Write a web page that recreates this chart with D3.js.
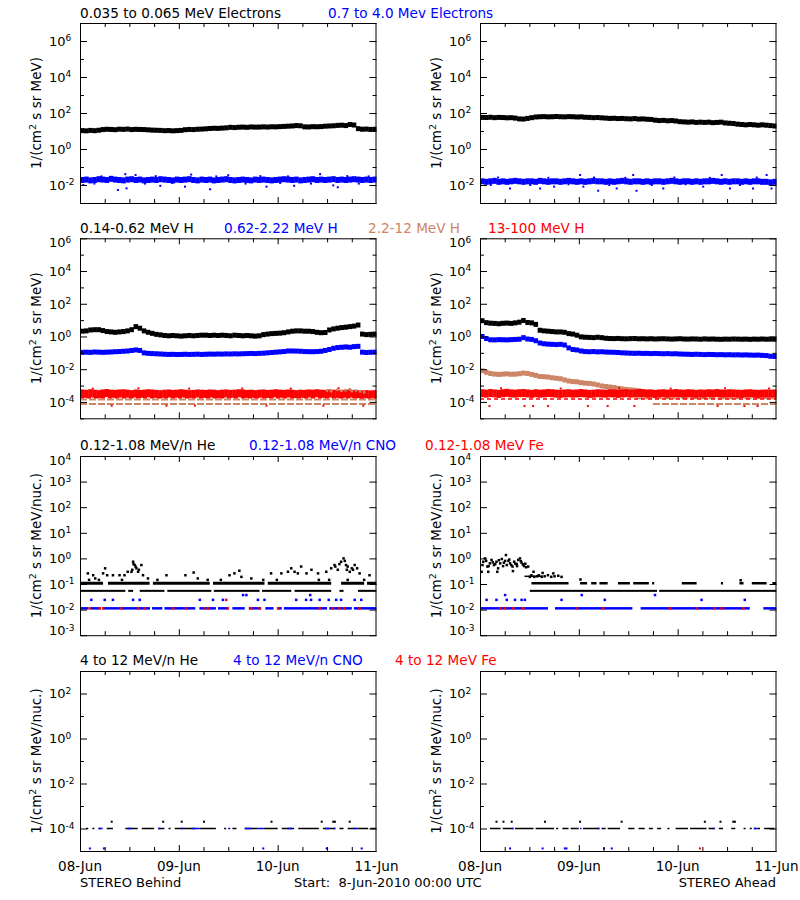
<!DOCTYPE html>
<html><head><meta charset="utf-8">
<script src="https://cdn.jsdelivr.net/npm/d3@7"></script>
<style>
body{margin:0;background:#fff;}
svg{display:block;}
text{font-family:"DejaVu Sans",sans-serif;fill:#000;}
</style></head><body>
<svg id="chart" width="800" height="900"></svg>
<script>
// ---------------- DATA (hourly values from 08-Jun-2010 00:00 UTC, 72 hours) ----------------
const dayLabels = ["08-Jun", "09-Jun", "10-Jun", "11-Jun"];
const spacecraft = ["STEREO Behind", "STEREO Ahead"];
const startLabel = "Start:  8-Jun-2010 00:00 UTC";

// Row 1: electrons
const eBehindLow = [10.5,10.2,10.8,10.4,11.0, 12.0,12.5,12.2,11.8,12.6,12.3,12.8,12.0,12.4,12.2,
  12.0,11.6,11.2,11.0,10.8, 10.4,10.6,10.2,10.5,10.8, 11.8,12.2,12.0,12.5,12.8,13.2,
  13.8,14.2,14.0,14.5,15.0, 16.0,15.5,16.2,16.5,16.0,16.8,16.4, 16.5,17.0,16.6,17.2,17.0,17.5,
  18.0,18.5,19.0,20.0,19.5, 17.0,16.8,17.5,17.2,17.6, 18.5,19.0,19.5, 20.5,21.0,20.0,23.0,21.5,
  13.5,12.5,12.8,12.2,12.5];
const eBehindHigh = [0.019,0.020,0.018,0.019,0.021,0.020,0.019,0.022,0.020,0.019,0.018,0.020,0.021,0.019,0.020,0.018,0.019,0.020,0.019,0.021,
  0.020,0.019,0.018,0.020,0.019,0.020,0.021,0.019,0.018,0.020, 0.019,0.020,0.018,0.019,0.020,0.021,0.019,0.018,0.019,0.020,
  0.019,0.018,0.020,0.019,0.020,0.019,0.018,0.019,0.020,0.021, 0.020,0.019,0.020,0.018,0.019,0.020,0.021,0.019,0.020,0.019,
  0.020,0.021,0.019,0.020,0.019,0.020,0.021,0.020,0.019,0.020,0.019,0.020];
const eBehindHighOut = [[9.2,0.0053],[11.3,0.0065],[25.5,0.0081],[31.6,0.0058],[45.3,0.0081],[61.5,0.0095],[62.6,0.0075],
  [0.8,0.010],[19.5,0.009],[52,0.009],[11,0.040],[13.5,0.036],[27,0.038],[36,0.035],[58.3,0.040],
  [3.5,0.012],[15.8,0.012],[22.4,0.013],[40.2,0.012],[48.6,0.013],[56.1,0.012],[67.7,0.012],
  [5.2,0.030],[18.4,0.031],[33.1,0.030],[43.8,0.031],[50.5,0.030],[64.9,0.031],[70.1,0.030]];
const eAheadLow = [57,56,58,55,57,56,54,55,52, 47,46,50,55, 60,62,63,61,62,64,62,61,63,62,60,61,
  58,57,55,56,54, 52,50,51,49,50,48,47,49,46,47,45,44, 40,38,39,37,38,36,
  33,32,31,32,30,31,30,31,29,30,31, 28,27,26, 24,23,22,23,22,21,22,21,20,19];
const eAheadHigh = [0.016,0.015,0.016,0.017,0.015,0.016,0.015,0.016,0.017,0.016, 0.015,0.016,0.016,0.015,0.017,0.016,0.015,0.016,0.016,0.015,
  0.016,0.017,0.016,0.015,0.016,0.015,0.016,0.017,0.016,0.016, 0.015,0.016,0.015,0.016,0.017,0.016,0.015,0.016,0.016,0.015,
  0.016,0.015,0.016,0.016,0.015,0.016,0.017,0.016,0.015,0.016, 0.016,0.015,0.016,0.015,0.016,0.016,0.017,0.016,0.015,0.016,
  0.015,0.016,0.016,0.015,0.016,0.015,0.016,0.016,0.015,0.015,0.014,0.015];
const eAheadHighOut = [[7.3,0.0064],[14.6,0.0064],[18,0.0081],[25.1,0.0081],[28.7,0.0048],[33.2,0.0064],[38,0.0048],
  [44.5,0.0064],[54.2,0.0081],[60.7,0.0064],[66.3,0.0064],[70.8,0.0064],[24.3,0.036],[37.2,0.036],[58.7,0.036],[69.6,0.036],
  [2.6,0.010],[12.2,0.010],[21.5,0.011],[31.4,0.010],[41.7,0.010],[49.9,0.011],[63.1,0.010],
  [4.4,0.026],[16.6,0.025],[27.7,0.026],[35.3,0.025],[47.2,0.026],[55.8,0.025],[67.2,0.026]];

// Row 2: protons
const hBehind1 = [2.1,2.2,2.5,2.6,2.6,2.3,2.0,1.9,1.8,1.9,2.0,2.2,2.6,4.0,3.2,2.2,1.8,1.55,1.35,1.25,
  1.15,1.1,1.15,1.1,1.05,1.1,1.15,1.1,1.15,1.2, 1.2,1.15,1.2,1.15,1.2,1.15,1.1,1.2,1.15,1.1,
  1.15,1.1,1.05,1.1, 1.3,1.4,1.5,1.55,1.6,1.7, 1.9,2.1,2.2,2.2,2.1,2.1, 2.0,1.8,1.7,1.75,
  2.5,2.9,3.2,3.5,3.7,4.0,4.3,5.0, 1.4,1.3,1.35,1.4];
const hBehind2 = [0.107,0.11,0.107,0.113,0.11,0.107,0.11,0.113,0.117,0.12,0.125,0.13, 0.14,0.15,0.14,
  0.1,0.093,0.09,0.088,0.085,
  0.082,0.08,0.081,0.079,0.08,0.082,0.08,0.081,0.083,0.08, 0.082,0.084,0.083,0.085,0.084,0.086,0.085,0.087,0.086,0.088,
  0.09,0.092,0.09,0.093,0.095,0.1,0.105,0.11,0.115,0.12, 0.13,0.13,0.128,0.125,0.12,0.118,0.117,0.12,0.125,0.14,
  0.16,0.19,0.21,0.22,0.23,0.22,0.24,0.25, 0.11,0.105,0.108,0.11];
const hBehind3Levels = [1.4e-4, 7.5e-5];
const hBehind3Late = [[60,5e-4],[61,4.5e-4],[62.5,5.5e-4],[63.5,4.8e-4],[64.5,5.2e-4],[65.5,6e-4],[66,4.6e-4],[67,5e-4],[68,4.4e-4],[69,3.9e-4]];
const hBehind4 = [3.3e-4,3.1e-4,3.4e-4,3.2e-4,3.0e-4,3.3e-4,3.5e-4,3.2e-4,3.1e-4,3.3e-4, 3.4e-4,3.2e-4,3.0e-4,3.3e-4,3.1e-4,3.2e-4,3.4e-4,3.3e-4,3.1e-4,3.0e-4,
  3.2e-4,3.3e-4,3.1e-4,3.2e-4,3.4e-4,3.2e-4,3.0e-4,3.1e-4,3.3e-4,3.2e-4, 3.1e-4,3.3e-4,3.2e-4,3.0e-4,3.2e-4,3.3e-4,3.1e-4,3.2e-4,3.4e-4,3.3e-4,
  3.1e-4,3.2e-4,3.0e-4,3.2e-4,3.3e-4,3.1e-4,3.2e-4,3.4e-4,3.2e-4,3.1e-4, 3.3e-4,3.2e-4,3.0e-4,3.2e-4,3.1e-4,3.3e-4,3.2e-4,3.4e-4,3.2e-4,3.1e-4,
  3.3e-4,3.2e-4,3.1e-4,3.0e-4,3.2e-4,3.3e-4,3.1e-4,3.0e-4,2.9e-4,3.0e-4,2.9e-4,3.0e-4];
const hBehind4Floor = 1.8e-4;
const hBehind4Out = [[7.7,5.9e-5],[21,5.9e-5],[27.9,5.9e-5],[45.3,5.9e-5],[59.1,5.9e-5],[68.8,5.9e-5],
  [3.1,6.5e-4],[14.2,6.8e-4],[26.5,6.5e-4],[39.4,6.6e-4],[51.2,6.5e-4],[62.8,6.9e-4]];

const hAhead1 = [9.2,7.0,6.5,6.3,6.0,6.4,6.6,6.3,6.8,7.5,9.5,7.2,6.8,5.5,
  2.4,2.2,2.1,2.0,1.9,1.9,1.8,1.5,1.4,1.2, 0.95,0.9,0.88,0.85,0.9,0.85,
  0.78,0.75,0.74,0.76,0.73,0.72,0.74,0.75,0.72,0.73, 0.71,0.73,0.70,0.72,0.73,0.71,0.69,0.71,0.73,0.70,
  0.69,0.71,0.70,0.68,0.71,0.69,0.70,0.68,0.67,0.69, 0.68,0.70,0.69,0.68,0.69,0.67,0.69,0.68,0.70,0.68,0.69,0.68];
const hAhead2 = [1.0,0.75, 0.63,0.62,0.64,0.63,0.62,0.64,0.66,0.68, 0.85,0.7,0.66,0.55,
  0.4,0.36,0.34,0.33,0.32,0.33,0.3, 0.2,0.16,0.15,
  0.13,0.12,0.117,0.12,0.115,0.117,0.112,0.11,0.108,0.105,
  0.1,0.098,0.095,0.093,0.095,0.092,0.093,0.09,0.092,0.09,0.088,0.09,0.087,0.088,
  0.085,0.083,0.082,0.08,0.082,0.08,0.078,0.08,0.079,0.077,0.078,0.076,0.077,0.075,0.076,0.074,0.075,0.073,0.072,0.073,0.07,0.068,
  0.062,0.06];
const hAhead3 = [8e-3,6.5e-3,5.5e-3,5e-3,4.8e-3,5e-3,5.2e-3,4.9e-3,5e-3,5.3e-3,5.8e-3,5.5e-3,4.8e-3,4.2e-3,
  3.6e-3,3.5e-3,3.3e-3,3.0e-3,2.8e-3,2.6e-3,2.2e-3,1.9e-3,1.75e-3,1.7e-3,
  1.5e-3,1.4e-3,1.35e-3,1.25e-3,1.1e-3,9.5e-4,8.8e-4,8.2e-4,7.6e-4,6.8e-4,6.3e-4,5.8e-4,5.5e-4,5.2e-4,4.8e-4,4.4e-4,
  4.1e-4,3.9e-4,3.7e-4,3.5e-4,3.3e-4,3.1e-4,
  null,null,null,null,null,null,null,null,null,null,null,null,null,null,null,null,null,null,null,null,
  null,null,null,null,null,null];
const hAhead3Levels = [[1.7e-4, 38], [7.5e-5, 42]];
const hAhead4 = [3.4e-4,3.2e-4,3.5e-4,3.3e-4,3.1e-4,3.4e-4,3.6e-4,3.3e-4,3.2e-4,3.4e-4, 3.5e-4,3.3e-4,3.1e-4,3.4e-4,3.2e-4,3.3e-4,3.5e-4,3.4e-4,3.2e-4,3.1e-4,
  3.3e-4,3.4e-4,3.2e-4,3.3e-4,3.5e-4,3.3e-4,3.1e-4,3.2e-4,3.4e-4,3.3e-4, 3.2e-4,3.4e-4,3.3e-4,3.1e-4,3.3e-4,3.4e-4,3.2e-4,3.3e-4,3.5e-4,3.4e-4,
  3.2e-4,3.3e-4,3.1e-4,3.3e-4,3.4e-4,3.2e-4,3.3e-4,3.5e-4,3.3e-4,3.2e-4, 3.4e-4,3.3e-4,3.1e-4,3.3e-4,3.2e-4,3.4e-4,3.3e-4,3.5e-4,3.3e-4,3.2e-4,
  3.4e-4,3.3e-4,3.2e-4,3.1e-4,3.3e-4,3.4e-4,3.2e-4,3.1e-4,3.2e-4,3.3e-4,3.2e-4,3.3e-4];
const hAhead4Floor = 1.5e-4;
const hAhead4Out = [[2.3,5.6e-5],[10.8,5.6e-5],[12.9,5.6e-5],[16.5,5.6e-5],[26.2,5.6e-5],[31,5.6e-5],[37.5,5.6e-5],[57.7,5.6e-5],[64.2,5.6e-5],[67.4,5.6e-5],
  [5.1,6.8e-4],[19.6,6.6e-4],[33.8,6.9e-4],[46.3,6.5e-4],[59.5,6.8e-4],[70.2,6.6e-4]];

// Row 3: 0.12-1.08 MeV/n heavy ions (quantised count levels; segments in hours)
const heBehindLevels = [0.107, 0.054];
const heBehindL1Segs = [[0,5.6],[6.8,16.9],[17.7,31.5],[32.3,44.8],[45.6,61],[63.4,69],[69.7,72]];
const heBehindL2Segs = [[0,11],[11.7,12.9],[14.5,20.5],[21.2,31.9],[32.5,43.6],[44.2,51.3],[52.1,61],[63,64],[67.5,72]];
const heBehindPts = [[1.9,0.26],[3.2,0.22],[3.7,0.165],[5.6,0.26],[6.1,0.41],[6.6,0.22],[8.0,0.22],[9.6,0.22],[10.8,0.22],[11.6,0.30],
  [12.5,0.30],[12.7,0.36],[12.9,0.74],[13.0,0.6],[13.3,0.55],[13.5,0.48],[13.7,0.41],[14.1,0.30],[14.3,0.36],[14.9,0.55],[15.3,0.22],[16.5,0.165],
  [21,0.22],[25.6,0.22],[27.6,0.28],[28.6,0.165],[36.3,0.22],[37.5,0.26],[38.7,0.33],[39.2,0.19],[41.6,0.165],
  [46.4,0.26],[48.9,0.26],[50.5,0.30],[51.3,0.41],[52.1,0.30],[52.9,0.26],[53.7,0.48],[55,0.26],[56.2,0.36],[57.8,0.26],
  [59.8,0.30],[61,0.41],[61.8,0.55],[62,0.48],[62.6,0.36],[63,0.6],[63.4,0.74],[64,1.0],[64.3,0.8],[64.6,0.55],[64.8,0.36],[65,0.48],
  [65.5,0.30],[66,0.41],[66.3,0.36],[66.7,0.55],[67.3,0.41],[67.9,0.26],[70.3,0.22],
  [2.2,0.145],[4.6,0.145],[10.2,0.145],[18.8,0.145],[31,0.145],[34.2,0.145],[44.5,0.145],[47.8,0.145],[58,0.145],[60.5,0.145],[65,0.145],[69,0.145]];
const cnoBehindPts = [[2.75,0.024],[6.0,0.024],[8.0,0.024],[12.9,0.024],[14.5,0.024],[29.1,0.024],[32.3,0.024],[34.7,0.024],[43.2,0.024],[44.8,0.024],
  [52.5,0.024],[54.9,0.024],[56.1,0.024],[58.2,0.024],[60.4,0.024],[62.2,0.024],[63.4,0.024],[66.7,0.024],[68.3,0.024],
  [39.6,0.037],[40.4,0.037],[55.9,0.037]];
const cnoBehindLevel = 0.0112;
const cnoBehindSegs = [[0,2],[2.5,5],[5.5,17],[17.5,20],[20.5,28],[29,33],[33.5,36],[37,40],[41,44],[45,47],[48,49],[49.5,60],[60.5,66],[66.5,72]];
const feBehindPts = [[2.3,0.0112],[4.8,0.0112],[5.6,0.0112],[10,0.0112],[14.1,0.0112],[15.7,0.0112],[22.6,0.0112],[25.8,0.0112],[30.3,0.0112],
  [31.1,0.0112],[35.9,0.0112],[41.6,0.0112],[43.6,0.0112],[48.1,0.0112],[58.2,0.0112],[61.4,0.0112],[63,0.0112],[64.2,0.0112],[67.9,0.0112],[35.5,0.024]];

const heAheadLevels = [0.107, 0.054, 0.2];
const heAheadL1Segs = [[12.5,21.5],[24.3,26],[27,28.3],[29,31],[33.5,36.4],[37.2,41],[41.8,42.3],[49,52.6],[58.5,59],[63,64],[66,69.6],[71,72]];
const heAheadL2Segs = [[12.1,43],[43.5,72]];
const heAheadL3Segs = [[10.8,15.2]];
const heAheadPts = [[0.4,0.30],[0.6,0.55],[0.8,0.74],[1.2,1.0],[1.5,0.8],[1.8,0.48],[2.0,0.3],[2.1,0.5],[2.4,0.64],[2.8,0.87],[3.1,0.7],[3.4,0.55],
  [3.7,0.6],[4.0,0.74],[4.2,0.3],[4.4,0.41],[4.6,0.85],[4.9,0.64],[5.3,0.95],[5.6,0.5],[5.8,0.68],[6.1,0.8],[6.3,1.35],[6.5,0.55],[6.9,0.80],
  [7.1,0.9],[7.3,0.64],[7.6,0.55],[7.9,0.48],[8.0,0.32],[8.3,0.74],[8.6,0.62],[8.9,0.6],[9.0,0.5],[9.3,0.87],[9.7,1.0],[9.9,0.78],[10.1,0.68],
  [10.4,0.58],[10.7,0.5],[11.0,0.62],[11.2,0.45],[11.7,0.48],
  [12.1,0.19],[12.5,0.22],[13,0.3],[13.2,0.19],[13.9,0.2],[14.3,0.22],[15.0,0.19],[15.2,0.27],[15.7,0.2],[16.5,0.22],[17.3,0.19],[17.8,0.26],
  [18.1,0.2],[19.0,0.21],[19.8,0.19],[24.4,0.15],[63.3,0.14]];
const cnoAheadPts = [[1.6,0.024],[4.0,0.024],[6.5,0.024],[8.5,0.024],[10.1,0.024],[10.9,0.024],[19.8,0.024],[30.3,0.024],[53.8,0.024],[64.3,0.024],
  [6.1,0.037],[24.7,0.037],[42.5,0.037]];
const cnoAheadLevel = 0.0112;
const cnoAheadSegs = [[0,16.5],[18.2,37],[39,65.5],[68.8,72]];
const feAheadPts = [[4.9,0.0112],[6.1,0.0112],[8.1,0.0112],[10.5,0.0112],[23.5,0.0112],[29.9,0.0112],[46.1,0.0112],[52.6,0.0112],[57,0.0112],[58.7,0.0112],[63.9,0.0112]];

// Row 4: 4-12 MeV/n heavy ions
const hiLevel = 1e-4;
const hiBehindHeSegs = [[1.5,2],[3,3.5],[4.5,5],[6.5,8],[11,14],[15,18],[19,20.5],[21.5,22],[23,28],[29,33],[35,35.5],[37,38],[40,43],
  [44.5,48],[49,52],[53,58],[59,62],[63,64],[65,67],[67.5,70],[70.5,72]];
const hiBehindCnoSegs = [[4.5,5.5],[11.5,12.5],[19,19.5],[24.5,25],[27,29],[36,36.5],[40,41.5],[43,44.5],[50.5,51.5],[59.5,60.5],[61.5,62],[66.5,67.5]];
const hiBehindHePts = [[7.7,2e-4],[20.2,2e-4],[24.7,2e-4],[30.1,2e-4],[46.5,2e-4],[58.7,2e-4],[61.5,2e-4],[61.9,2e-4],[65.5,2e-4]];
const hiBehindCnoPts = [[2.4,1.3e-5],[5.8,1.3e-5],[44.5,1.3e-5],[59.9,1.3e-5],[68.4,1.3e-5]];
const hiAheadHeSegs = [[2.4,5],[5.5,8],[8.5,13],[13.5,18],[18.5,19],[20,21.5],[22,24],[25,29],[29.5,30.5],[31,34],[36,37.5],[38.5,40],
  [41,42],[43,44],[45.5,46],[47.5,50.5],[51,55],[55.5,57],[58,59],[61,62],[64,64.5],[65.5,66],[66.5,67],[67.5,68],[69,71.5]];
const hiAheadCnoSegs = [[7.7,8.2],[24.3,24.6],[28.5,29],[56.5,57],[66.5,67.5]];
const hiAheadHePts = [[4.0,2e-4],[5.7,2e-4],[7.7,2e-4],[15.8,2e-4],[24.3,2e-4],[34.4,2e-4],[54.6,2e-4],[58.4,2e-4],[61.5,2e-4],[61.9,2e-4]];
const hiAheadCnoPts = [[7.3,1.3e-5],[15.2,1.3e-5],[20.6,1.3e-5],[21.0,1.3e-5],[30.1,1.3e-5],[32.0,1.3e-5]];
const hiAheadFePts = [[53.4,1.3e-5]];

// Titles
const BLACK = "#000000", BLUE = "#0000ff", SIENNA = "#cd8566", RED = "#ff0000";
const rowTitles = [
  [["0.035 to 0.065 MeV Electrons", 80, BLACK], ["0.7 to 4.0 Mev Electrons", 328, BLUE]],
  [["0.14-0.62 MeV H", 80, BLACK], ["0.62-2.22 MeV H", 224, BLUE], ["2.2-12 MeV H", 368, SIENNA], ["13-100 MeV H", 488, RED]],
  [["0.12-1.08 MeV/n He", 80, BLACK], ["0.12-1.08 MeV/n CNO", 249, BLUE], ["0.12-1.08 MeV Fe", 425, RED]],
  [["4 to 12 MeV/n He", 80, BLACK], ["4 to 12 MeV/n CNO", 233, BLUE], ["4 to 12 MeV Fe", 395, RED]]
];
const yTitles = ["1/(cm|2| s sr MeV)", "1/(cm|2| s sr MeV)", "1/(cm|2| s sr MeV/nuc.)", "1/(cm|2| s sr MeV/nuc.)"];

// ---------------- LAYOUT ----------------
const HOURS = 72;
const colX = [80, 480];
const plotW = 296.5;
const rows = [
  {top: 23,    h: 180,   lo: -3, hi: 7, step: 2, titleY: 18},
  {top: 238.3, h: 180,   lo: -5, hi: 6, step: 2, titleY: 233},
  {top: 456,   h: 179.2, lo: -3, hi: 4, step: 1, titleY: 449.5},
  {top: 671,   h: 180,   lo: -5, hi: 3, step: 2, titleY: 665}
];

const svg = d3.select("#chart");
const defs = svg.append("defs");

function panel(r, c) {
  const R = rows[r], x0 = colX[c], x1 = x0 + plotW;
  const x = d3.scaleLinear().domain([0, HOURS]).range([x0, x1]);
  const y = d3.scaleLog().domain([Math.pow(10, R.lo), Math.pow(10, R.hi)]).range([R.top + R.h, R.top]);
  const id = "clip" + r + c;
  defs.append("clipPath").attr("id", id).append("rect")
    .attr("x", x0).attr("y", R.top).attr("width", plotW).attr("height", R.h);
  const layer = svg.append("g").attr("clip-path", `url(#${id})`);
  return {r, c, R, x0, x1, x, y, layer};
}

function band(P, values, color, hgt) {
  P.layer.append("g").attr("fill", color).selectAll("rect")
    .data(values.map((v, i) => ({v, i})).filter(d => d.v != null))
    .join("rect")
    .attr("x", d => P.x(d.i)).attr("width", d => P.x(d.i + 1) - P.x(d.i) + 0.4)
    .attr("y", d => P.y(d.v) - hgt / 2).attr("height", hgt);
}
function dots(P, pts, color, s) {
  P.layer.append("g").attr("fill", color).selectAll("rect").data(pts).join("rect")
    .attr("x", d => P.x(d[0]) - s / 2).attr("y", d => P.y(d[1]) - s / 2)
    .attr("width", s).attr("height", s);
}
function segs(P, list, lev, color, t) {
  P.layer.append("g").attr("fill", color).selectAll("rect").data(list).join("rect")
    .attr("x", d => P.x(d[0])).attr("width", d => Math.max(1.5, P.x(d[1]) - P.x(d[0])))
    .attr("y", P.y(lev) - t / 2).attr("height", t);
}
function dashLevel(P, lev, from, color, t, dash) {
  P.layer.append("line").attr("x1", P.x(from)).attr("x2", P.x(HOURS))
    .attr("y1", P.y(lev)).attr("y2", P.y(lev))
    .attr("stroke", color).attr("stroke-width", t).attr("stroke-dasharray", dash);
}

function axes(P) {
  const {R, x0, x1, x, y} = P;
  const dec = d3.range(R.lo, R.hi + 1);
  const isLab = e => R.step === 1 || e % 2 === 0;
  const maj = dec.filter(isLab).map(e => Math.pow(10, e));
  const mnr = dec.filter(e => !isLab(e)).map(e => Math.pow(10, e));
  const ax = svg.append("g");
  const add = (a, tr, vals, size) => ax.append("g").attr("transform", tr)
    .call(a.tickValues(vals).tickSize(size).tickSizeOuter(0).tickFormat(""));
  add(d3.axisLeft(y), `translate(${x0},0)`, maj, -7);
  add(d3.axisLeft(y), `translate(${x0},0)`, mnr, -4);
  add(d3.axisRight(y), `translate(${x1},0)`, maj, -7);
  add(d3.axisRight(y), `translate(${x1},0)`, mnr, -4);
  const hMaj = [24, 48], hMin = [6, 12, 18, 30, 36, 42, 54, 60, 66];
  add(d3.axisBottom(x), `translate(0,${R.top + R.h})`, hMaj, -6);
  add(d3.axisBottom(x), `translate(0,${R.top + R.h})`, hMin, -4);
  add(d3.axisTop(x), `translate(0,${R.top})`, hMaj, -6);
  add(d3.axisTop(x), `translate(0,${R.top})`, hMin, -4);
  ax.selectAll(".domain").remove();
  ax.selectAll("line").attr("stroke", "#000").attr("stroke-width", 1);
  svg.append("rect").attr("x", x0 + 0.5).attr("y", R.top + 0.5).attr("width", plotW - 1).attr("height", R.h)
    .attr("fill", "none").attr("stroke", "#000").attr("stroke-width", 1);
  // tick labels 10^n (kept inside the frame's vertical extent, as in the reference)
  dec.filter(isLab).forEach(e => {
    const cy = Math.min(Math.max(y(Math.pow(10, e)), R.top + 4), R.top + R.h - 5);
    const t = svg.append("text").attr("x", x0 - 31).attr("y", cy + 4.8).attr("font-size", 13);
    t.append("tspan").text("10");
    t.append("tspan").attr("dy", -4.5).attr("font-size", 9).text(String(e));
  });
  // y title
  const parts = yTitles[P.r].split("|");
  const yt = svg.append("text").attr("font-size", 13.5).attr("text-anchor", "middle")
    .attr("transform", `translate(${x0 - 39},${R.top + R.h / 2}) rotate(-90)`);
  yt.append("tspan").text(parts[0]);
  yt.append("tspan").attr("dy", -5).attr("font-size", 9.5).text(parts[1]);
  yt.append("tspan").attr("dy", 5).text(parts[2]);
  // bottom date labels
  if (P.r === 3) {
    svg.append("g").selectAll("text").data(dayLabels).join("text")
      .attr("x", (d, i) => x(i * 24)).attr("y", 870.5).attr("text-anchor", "middle")
      .attr("font-size", 13.5).text(d => d);
  }
}

// titles
rows.forEach((R, r) => {
  svg.append("g").selectAll("text").data(rowTitles[r]).join("text")
    .attr("x", d => d[1]).attr("y", R.titleY).attr("font-size", 13.6)
    .style("fill", d => d[2]).text(d => d[0]);
});

// ---- Row 1
let P = panel(0, 0);
band(P, eBehindLow, BLACK, 5);
band(P, eBehindHigh, BLUE, 6);
dots(P, eBehindHighOut, BLUE, 2);
axes(P);
P = panel(0, 1);
band(P, eAheadLow, BLACK, 5);
band(P, eAheadHigh, BLUE, 6);
dots(P, eAheadHighOut, BLUE, 2);
axes(P);

// ---- Row 2
P = panel(1, 0);
band(P, hBehind1, BLACK, 5);
band(P, hBehind2, BLUE, 5);
hBehind3Levels.forEach(v => dashLevel(P, v, 0, SIENNA, 2, "7 2"));
dashLevel(P, hBehind4Floor, 0, RED, 1.5, "4 3");
band(P, hBehind4, RED, 8);
dots(P, hBehind4Out, RED, 2);
dots(P, hBehind3Late, SIENNA, 2.5);
axes(P);
P = panel(1, 1);
band(P, hAhead1, BLACK, 5);
band(P, hAhead2, BLUE, 5);
band(P, hAhead3, SIENNA, 5);
hAhead3Levels.forEach(d => dashLevel(P, d[0], d[1], SIENNA, 2, "7 2"));
band(P, hAhead4, RED, 8);
dashLevel(P, hAhead4Floor, 0, RED, 1.5, "4 3");
dots(P, hAhead4Out, RED, 2);
axes(P);

// ---- Row 3
P = panel(2, 0);
segs(P, heBehindL1Segs, heBehindLevels[0], BLACK, 3);
segs(P, heBehindL2Segs, heBehindLevels[1], BLACK, 2);
dots(P, heBehindPts, BLACK, 2.5);
dots(P, cnoBehindPts, BLUE, 2.5);
segs(P, cnoBehindSegs, cnoBehindLevel, BLUE, 2.5);
dots(P, feBehindPts, RED, 2.5);
axes(P);
P = panel(2, 1);
segs(P, heAheadL1Segs, heAheadLevels[0], BLACK, 2.5);
segs(P, heAheadL2Segs, heAheadLevels[1], BLACK, 2);
segs(P, heAheadL3Segs, heAheadLevels[2], BLACK, 1.5);
dots(P, heAheadPts, BLACK, 2.5);
dots(P, cnoAheadPts, BLUE, 2.5);
segs(P, cnoAheadSegs, cnoAheadLevel, BLUE, 2.5);
dots(P, feAheadPts, RED, 2.5);
axes(P);

// ---- Row 4
P = panel(3, 0);
segs(P, hiBehindHeSegs, hiLevel, BLACK, 1.5);
segs(P, hiBehindCnoSegs, hiLevel, BLUE, 1.5);
dots(P, hiBehindHePts, BLACK, 2);
dots(P, hiBehindCnoPts, BLUE, 2);
axes(P);
P = panel(3, 1);
segs(P, hiAheadHeSegs, hiLevel, BLACK, 1.5);
segs(P, hiAheadCnoSegs, hiLevel, BLUE, 1.5);
dots(P, hiAheadHePts, BLACK, 2);
dots(P, hiAheadCnoPts, BLUE, 2);
dots(P, hiAheadFePts, RED, 2);
axes(P);

// footer
svg.append("text").attr("x", 80).attr("y", 886.5).attr("font-size", 13).text(spacecraft[0]);
svg.append("text").attr("x", 294).attr("y", 886.5).attr("font-size", 13).style("white-space", "pre").text(startLabel);
svg.append("text").attr("x", 776).attr("y", 886.5).attr("font-size", 13).attr("text-anchor", "end").text(spacecraft[1]);
</script>
</body></html>
